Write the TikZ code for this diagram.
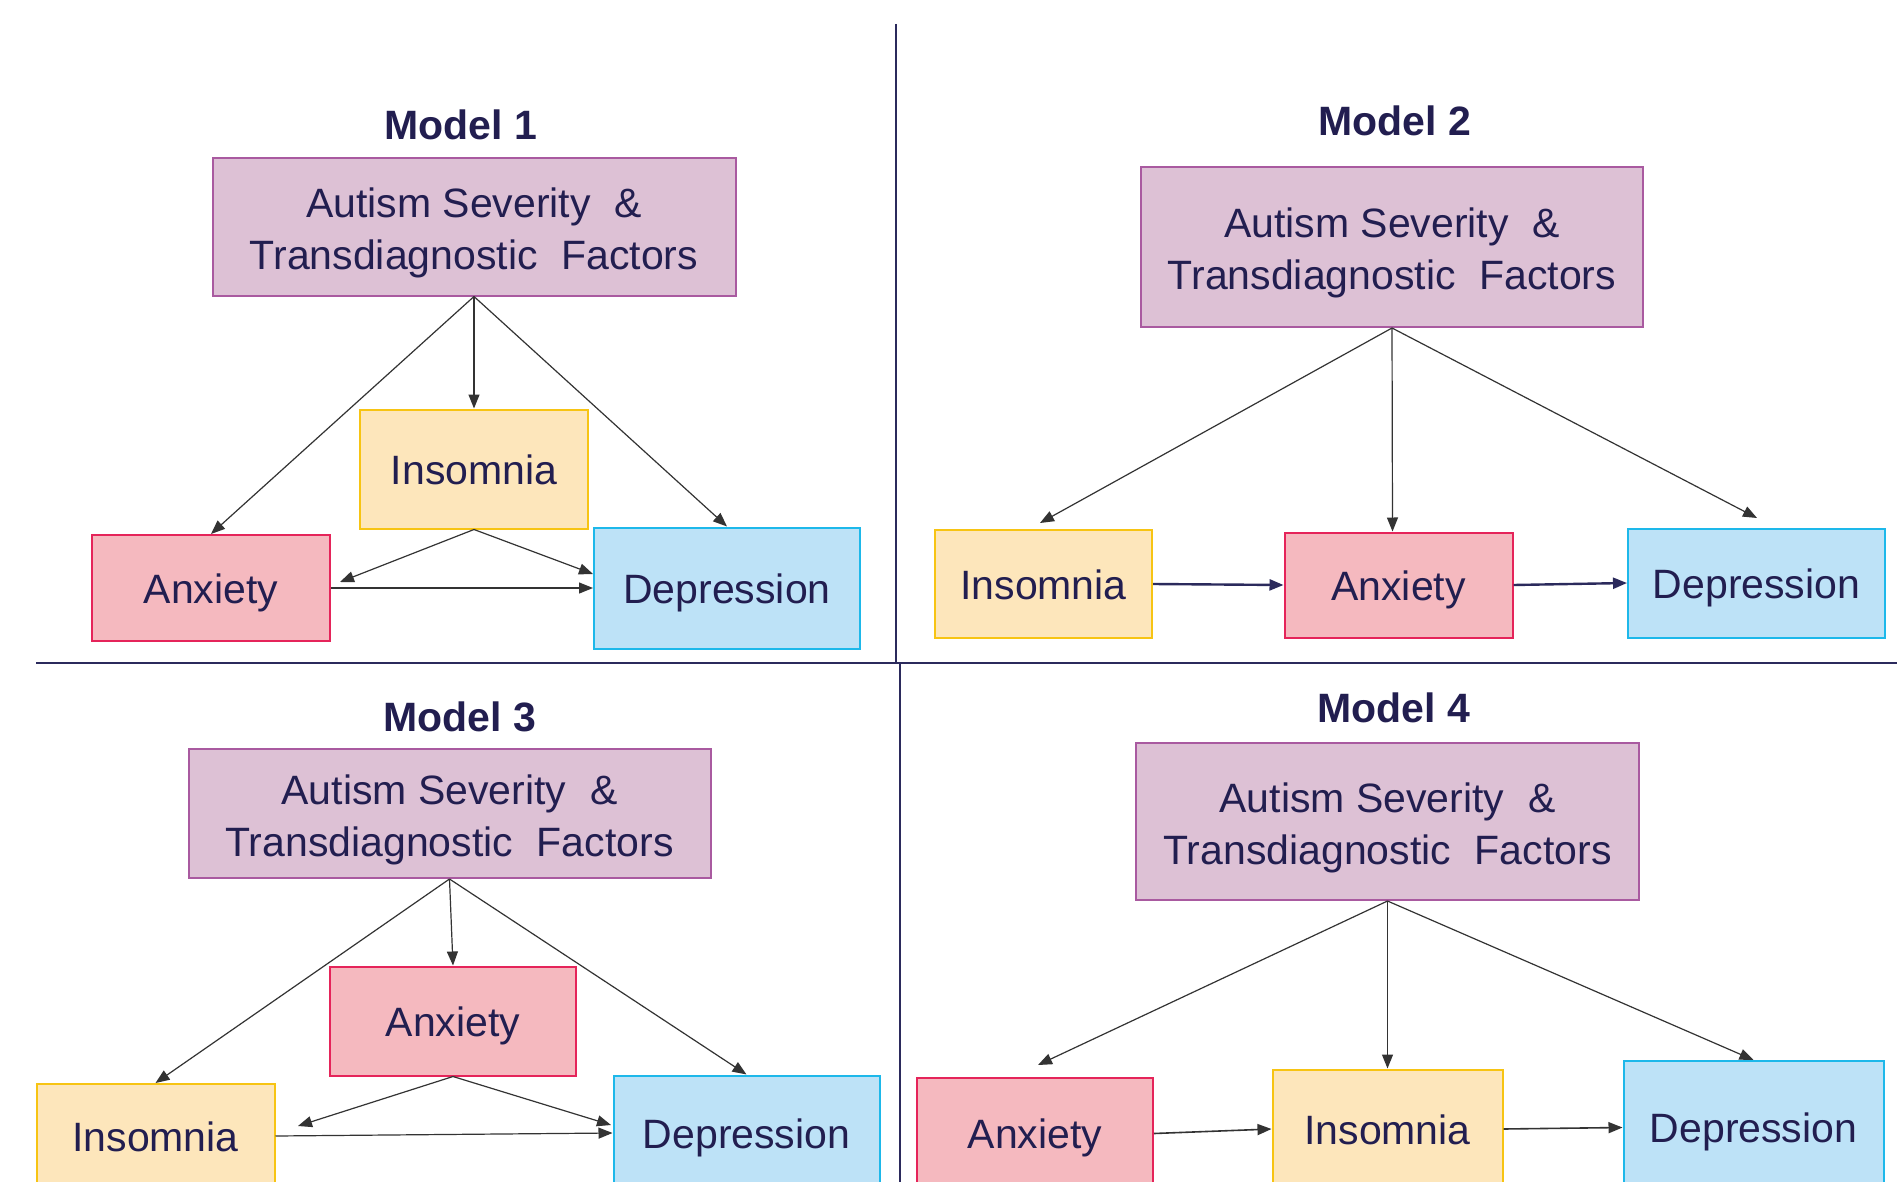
\documentclass[tikz,border=0pt]{standalone}
\usepackage{fontspec}
\setmainfont{Liberation Sans}
\usetikzlibrary{arrows.meta}
\definecolor{navy}{HTML}{221E50}
\definecolor{divc}{HTML}{2B2A5C}
\definecolor{arrc}{HTML}{333333}
\definecolor{purfill}{HTML}{DDC1D5}
\definecolor{purline}{HTML}{A95AA0}
\definecolor{insfill}{HTML}{FDE6BB}
\definecolor{insline}{HTML}{F7C413}
\definecolor{anxfill}{HTML}{F5B9BF}
\definecolor{anxline}{HTML}{E5245A}
\definecolor{depfill}{HTML}{BDE2F7}
\definecolor{depline}{HTML}{1DB8EA}
\begin{document}
\begin{tikzpicture}[x=1pt,y=-1pt,
  box/.style={draw, line width=2pt, inner sep=0pt, align=center, text=navy,
    font=\fontsize{41}{52}\selectfont},
  onebox/.style={box, text height=30pt, text depth=0pt},
  topbox/.style={box, fill=purfill, draw=purline},
  insbox/.style={onebox, fill=insfill, draw=insline},
  anxbox/.style={onebox, fill=anxfill, draw=anxline},
  depbox/.style={onebox, fill=depfill, draw=depline},
  titletext/.style={text=navy, font=\fontsize{41}{49}\selectfont\bfseries},
  arr/.style={draw=arrc, line width=1.2pt, -{Triangle[length=14pt,width=11pt]}},
  harr/.style={draw=divc, line width=2.4pt, -{Triangle[length=14pt,width=11pt]}},
  harrb/.style={draw=arrc, line width=1.6pt, -{Triangle[length=14pt,width=11pt]}},
  divider/.style={draw=divc, line width=2.6pt}]
\useasboundingbox (0,0) rectangle (1897,1182);
\clip (0,0) rectangle (1897,1182);
\fill[white] (0,0) rectangle (1897,1182);

% dividers
\draw[divider] (896,24) -- (896,663);
\draw[divider] (900,663) -- (900,1182);
\draw[divider] (36,663) -- (1897,663);

\newcommand{\topText}{\rule{0pt}{42pt}Autism Severity\hspace{0.3em} \&\\Transdiagnostic\hspace{0.3em} Factors}

% ---------- Model 1 ----------
\node[titletext] (t1) at (461,125) {Model 1};
\node[topbox, minimum width=523, minimum height=137] (m1top) at (474,227) {\topText};
\node[insbox, minimum width=228, minimum height=119] (m1ins) at (474,469) {Insomnia};
\node[anxbox, minimum width=238, minimum height=106] (m1anx) at (211,588) {Anxiety};
\node[depbox, minimum width=266, minimum height=121] (m1dep) at (727,588) {Depression};
\coordinate (m1a) at (340,582);
\coordinate (m1d) at (593,574);
\draw[arr] (m1top.south) -- (m1anx.north);
\draw[arr] (m1top.south) -- (m1ins.north);
\draw[arr] (m1top.south) -- (m1dep.north);
\draw[arr] (m1ins.south) -- (m1a);
\draw[arr] (m1ins.south) -- (m1d);
\draw[arr] (m1anx.east) -- (m1dep.west);

% ---------- Model 2 ----------
\node[titletext] (t2) at (1395,121) {Model 2};
\node[topbox, minimum width=502, minimum height=160] (m2top) at (1392,247) {\topText};
\node[insbox, minimum width=217, minimum height=108] (m2ins) at (1043.5,584) {Insomnia};
\node[anxbox, minimum width=228, minimum height=105] (m2anx) at (1398.5,585) {Anxiety};
\node[depbox, minimum width=257, minimum height=109] (m2dep) at (1756.5,583) {Depression};
\coordinate (m2i) at (1040,523);
\coordinate (m2d) at (1757,518);
\draw[arr] (m2top.south) -- (m2i);
\draw[arr] (m2top.south) -- ([xshift=-6pt]m2anx.north);
\draw[arr] (m2top.south) -- (m2d);
\draw[harr] (m2ins.east) -- (m2anx.west);
\draw[harr] (m2anx.east) -- (m2dep.west);

% ---------- Model 3 ----------
\node[titletext] (t3) at (460,717) {Model 3};
\node[topbox, minimum width=522, minimum height=129] (m3top) at (449.5,813.5) {\topText};
\node[anxbox, minimum width=246, minimum height=109] (m3anx) at (453,1021) {Anxiety};
\node[insbox, minimum width=238, minimum height=104] (m3ins) at (155.5,1136) {Insomnia};
\node[depbox, minimum width=266, minimum height=115] (m3dep) at (746.5,1133) {Depression};
\coordinate (m3i) at (298,1126);
\coordinate (m3d) at (611,1125);
\draw[arr] (m3top.south) -- (m3ins.north);
\draw[arr] (m3top.south) -- (m3anx.north);
\draw[arr] (m3top.south) -- (m3dep.north);
\draw[arr] (m3anx.south) -- (m3i);
\draw[arr] (m3anx.south) -- (m3d);
\draw[arr] (m3ins.east) -- (m3dep.west);

% ---------- Model 4 ----------
\node[titletext] (t4) at (1394,708) {Model 4};
\node[topbox, minimum width=503, minimum height=157] (m4top) at (1387.5,821.5) {\topText};
\node[anxbox, minimum width=236, minimum height=111] (m4anx) at (1035,1133.5) {Anxiety};
\node[insbox, minimum width=230, minimum height=119] (m4ins) at (1387.5,1129) {Insomnia};
\node[depbox, minimum width=260, minimum height=133] (m4dep) at (1753.5,1127.5) {Depression};
\coordinate (m4a) at (1038,1065);
\draw[arr] (m4top.south) -- (m4a);
\draw[arr] (m4top.south) -- (m4ins.north);
\draw[arr] (m4top.south) -- (m4dep.north);
\draw[harrb] (m4anx.east) -- (m4ins.west);
\draw[harrb] (m4ins.east) -- (m4dep.west);
\end{tikzpicture}
\end{document}
